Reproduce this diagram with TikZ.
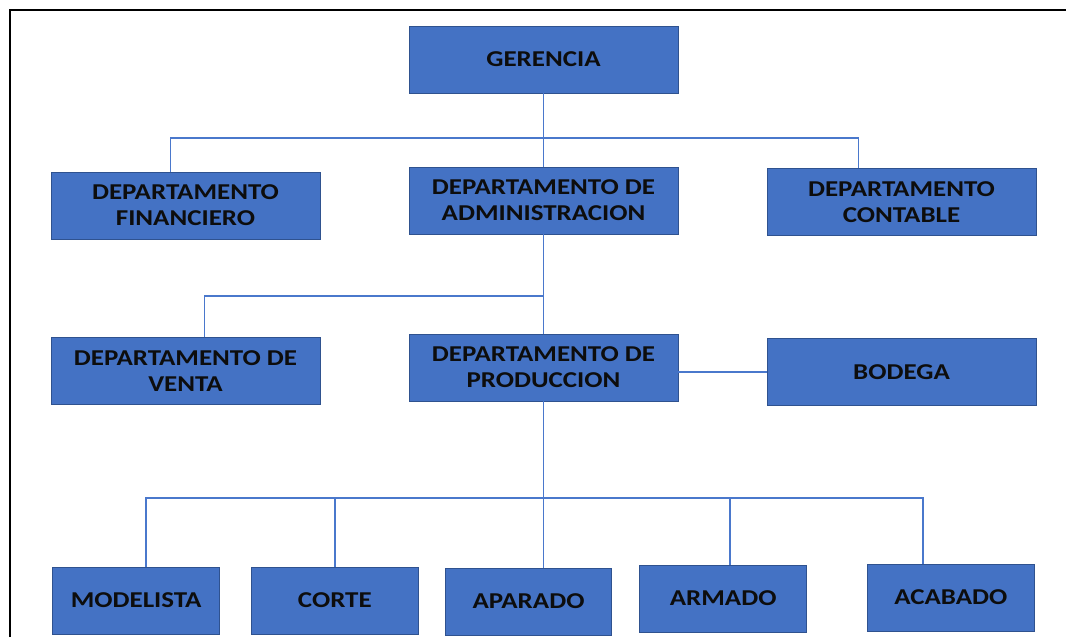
\documentclass[tikz,border=0pt]{standalone}
\usepackage{fontspec}
\newfontfamily\boxfont{Carlito}[FakeStretch=1.19]
\usepackage{xcolor}
\usetikzlibrary{positioning}

\definecolor{boxblue}{HTML}{4472C4}
\definecolor{boxedge}{HTML}{2F528F}
\definecolor{linkblue}{HTML}{4A78CC}

\begin{document}
\begin{tikzpicture}[
  x=0.75pt, y=-0.75pt,
  box/.style={rectangle, draw=boxedge, line width=0.6pt, fill=boxblue,
              minimum width=201.75pt, minimum height=50.25pt, outer sep=0pt,
              font=\boxfont\bfseries\fontsize{17}{19.5}\selectfont,
              text=black!95, align=center, inner sep=2pt},
  small/.style={box, minimum width=125pt},
  link/.style={draw=linkblue, line width=1.1pt},
]
  \useasboundingbox (0,0) rectangle (1066,637);
  % frame
  \draw[line width=1.6pt] (10,637) -- (10,10) -- (1066,10);

  % upper levels
  \node[box] at (543.5,59.5) (ger) {GERENCIA};
  \node[box, below=55.5pt of ger] (admin) {DEPARTAMENTO DE\\ADMINISTRACION};
  \node[box, left=66.75pt of admin, yshift=-3.75pt] (fin) {DEPARTAMENTO\\FINANCIERO};
  \node[box, right=66.75pt of admin, yshift=-1pt] (cont) {DEPARTAMENTO\\CONTABLE};
  \node[box, below=75pt of admin] (prod) {DEPARTAMENTO DE\\PRODUCCION};
  \node[box, left=66.75pt of prod, yshift=-2.6pt] (venta) {DEPARTAMENTO DE\\VENTA};
  \node[box, right=66.75pt of prod, yshift=-3.4pt] (bod) {BODEGA};

  % bottom row
  \node[small] at (528.5,601.5) (apa) {APARADO};
  \node[small, left=20.25pt of apa, yshift=0.75pt] (cor) {CORTE};
  \node[small, left=24pt of cor] (mod) {MODELISTA};
  \node[small, right=21pt of apa, yshift=2.25pt] (arm) {ARMADO};
  \node[small, right=45.75pt of arm, yshift=0.75pt] (acab) {ACABADO};

  % connectors
  \coordinate (bus1) at (543,138);
  \coordinate (bus2) at (543,296);
  \coordinate (bus3) at (543,498);

  \draw[link] (ger) -- (admin);
  \draw[link] ([xshift=-11.25pt]fin.north) |- (bus1) -| ([xshift=-32.25pt]cont.north);
  \draw[link] (admin) -- (prod);
  \draw[link] ([xshift=14.25pt]venta.north) |- (bus2);
  \draw[link] (prod.east |- bod) -- (bod);
  \draw[link] (prod.south) -- (prod.south |- apa.north);
  \draw[link] ([xshift=7.5pt]mod.north) |- (bus3) -| ([xshift=-21pt]acab.north);
  \draw[link] (cor.north) -- (cor.north |- bus3);
  \draw[link] ([xshift=5.25pt]arm.north) -- ([xshift=5.25pt]arm.north |- bus3);
\end{tikzpicture}
\end{document}
